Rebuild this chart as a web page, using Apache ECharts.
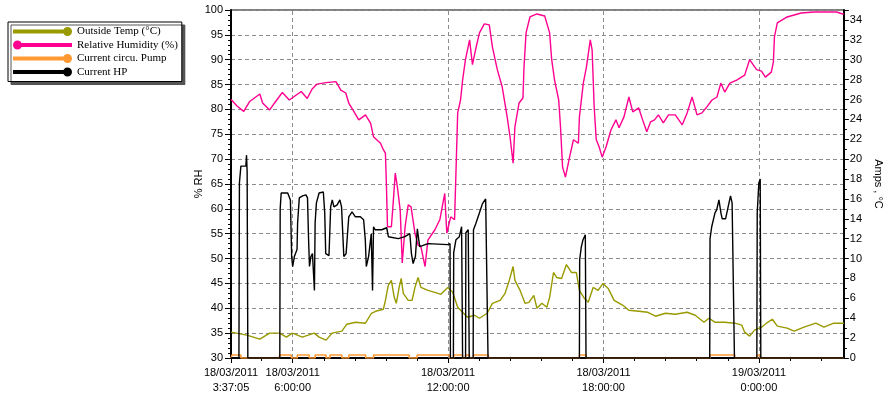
<!DOCTYPE html>
<html>
<head>
<meta charset="utf-8">
<script src="https://cdn.jsdelivr.net/npm/echarts@6/dist/echarts.min.js"></script>
<style>
html,body{margin:0;padding:0;background:#fff;}
#chart{width:892px;height:399px;}
</style>
</head>
<body>
<div id="chart"></div>
<script>
// ---- time axis (hours since 18/03/2011 00:00) ----
const xMin = 3.618;   // 18/03/2011 3:37:05
const xMax = 27.28;
const xTickValues = [3.618, 6, 12, 18, 24];
const xTickLabels = ['18/03/2011\n3:37:05', '18/03/2011\n6:00:00', '18/03/2011\n12:00:00', '18/03/2011\n18:00:00', '19/03/2011\n0:00:00'];
const xGridValues = [6, 12, 18, 24];
const xMinorTicks = [4.8, 7.2, 8.4, 9.6, 10.8, 13.2, 14.4, 15.6, 16.8, 19.2, 20.4, 21.6, 22.8, 25.2, 26.4];

// ---- Relative Humidity (%) ----
const rhTimes = [3.62, 3.66, 3.85, 4.11, 4.34, 4.73, 4.84, 5.11, 5.30, 5.60, 5.87, 6.14, 6.33, 6.56, 6.75, 6.94, 7.29, 7.67, 7.86, 8.05, 8.17, 8.36, 8.55, 8.81, 9.01, 9.12, 9.39, 9.50, 9.58, 9.62, 9.66, 9.81, 9.88, 9.96, 10.04, 10.15, 10.23, 10.34, 10.46, 10.57, 10.72, 10.84, 10.95, 11.11, 11.22, 11.49, 11.68, 11.87, 11.95, 12.10, 12.25, 12.37, 12.48, 12.56, 12.67, 12.83, 12.94, 13.06, 13.21, 13.40, 13.59, 13.71, 13.90, 14.09, 14.28, 14.39, 14.51, 14.58, 14.74, 14.89, 14.93, 15.01, 15.16, 15.43, 15.73, 15.92, 16.00, 16.11, 16.27, 16.34, 16.42, 16.53, 16.69, 16.84, 17.03, 17.07, 17.22, 17.34, 17.49, 17.56, 17.64, 17.72, 17.83, 17.95, 18.10, 18.29, 18.48, 18.60, 18.79, 18.98, 19.13, 19.36, 19.51, 19.67, 19.82, 19.97, 20.12, 20.31, 20.51, 20.77, 21.04, 21.23, 21.42, 21.61, 21.80, 21.99, 22.19, 22.38, 22.53, 22.68, 22.88, 23.14, 23.45, 23.64, 23.91, 24.10, 24.25, 24.48, 24.56, 24.60, 24.71, 25.09, 25.63, 26.12, 27.00, 27.23, 27.28];
const rhValues = [82.0, 82.0, 80.7, 79.6, 81.6, 83.1, 81.3, 79.9, 81.3, 83.4, 81.9, 82.9, 83.6, 82.2, 84.1, 85.1, 85.4, 85.6, 83.9, 83.3, 81.2, 79.6, 77.9, 78.9, 77.2, 74.5, 73.2, 71.9, 71.2, 64.5, 56.4, 56.4, 61.2, 67.2, 64.5, 59.8, 49.1, 56.4, 60.8, 60.4, 55.1, 52.7, 52.4, 48.4, 53.7, 55.8, 57.8, 63.1, 55.1, 58.4, 57.8, 79.3, 81.9, 85.9, 90.0, 94.0, 89.0, 92.0, 95.4, 97.2, 97.0, 92.6, 88.0, 84.5, 78.5, 74.5, 69.2, 76.5, 81.3, 82.3, 88.5, 95.4, 98.6, 99.2, 98.8, 95.4, 90.0, 85.9, 81.9, 76.5, 68.4, 66.4, 70.4, 73.9, 73.2, 78.5, 85.3, 88.5, 94.0, 92.0, 80.5, 73.9, 72.5, 70.4, 72.5, 75.9, 77.9, 76.3, 78.5, 82.5, 79.5, 80.3, 77.9, 75.5, 77.5, 77.9, 78.9, 77.3, 78.9, 78.9, 76.9, 79.3, 82.5, 78.9, 79.3, 80.5, 81.9, 82.5, 85.3, 83.5, 85.3, 85.9, 86.9, 90.0, 88.0, 87.7, 86.5, 87.5, 89.6, 94.6, 97.4, 98.6, 99.4, 99.6, 99.6, 99.2, 99.2];

// ---- Outside Temp (°C) ----
const tempTimes = [3.62, 3.66, 4.23, 4.73, 5.11, 5.49, 5.76, 5.99, 6.37, 6.83, 7.02, 7.29, 7.52, 7.90, 8.09, 8.43, 8.81, 9.04, 9.20, 9.50, 9.58, 9.69, 9.81, 9.92, 10.00, 10.11, 10.19, 10.27, 10.46, 10.61, 10.72, 10.84, 10.95, 11.22, 11.49, 11.72, 11.99, 12.18, 12.37, 12.56, 12.75, 13.02, 13.21, 13.51, 13.71, 14.01, 14.20, 14.36, 14.51, 14.58, 14.78, 14.97, 15.12, 15.31, 15.43, 15.62, 15.81, 15.92, 16.07, 16.19, 16.38, 16.57, 16.76, 16.95, 17.07, 17.26, 17.41, 17.60, 17.79, 17.98, 18.18, 18.41, 18.75, 18.98, 19.36, 19.71, 20.01, 20.39, 20.77, 21.23, 21.54, 21.88, 22.07, 22.30, 22.68, 23.07, 23.34, 23.45, 23.64, 23.83, 24.10, 24.29, 24.52, 24.71, 25.09, 25.36, 25.74, 26.20, 26.51, 26.89, 27.23, 27.28];
const tempValues = [2.6, 2.6, 2.3, 1.9, 2.5, 2.5, 2.1, 2.5, 2.1, 2.5, 2.1, 1.8, 2.5, 2.7, 3.4, 3.6, 3.5, 4.5, 4.7, 4.9, 5.8, 7.3, 7.8, 6.1, 5.5, 7.1, 8.0, 6.5, 5.8, 5.8, 7.1, 8.1, 7.1, 6.8, 6.6, 6.4, 7.1, 6.6, 5.1, 4.6, 4.1, 4.3, 4.0, 4.5, 5.5, 5.8, 6.5, 7.8, 9.2, 7.8, 6.8, 5.5, 5.6, 6.3, 5.0, 5.5, 5.1, 6.1, 8.6, 8.1, 8.0, 9.4, 8.6, 8.6, 6.8, 6.0, 5.6, 7.1, 6.8, 7.5, 7.0, 5.8, 5.3, 4.8, 4.7, 4.6, 4.2, 4.5, 4.4, 4.6, 4.3, 3.6, 4.0, 3.6, 3.6, 3.5, 3.3, 2.6, 2.2, 2.8, 3.1, 3.5, 3.9, 3.2, 3.0, 2.7, 3.1, 3.5, 3.1, 3.5, 3.5, 3.5];

// ---- Current circu. Pump (A) ----
const pumpTimes = [3.618, 3.656, 4.000, 5.490, 5.949, 6.178, 6.637, 6.866, 7.286, 7.439, 7.897, 8.165, 8.815, 9.121, 10.496, 10.802, 12.063, 12.216, 12.560, 12.674, 12.827, 12.980, 13.553, 17.069, 17.336, 22.113, 23.068, 23.947, 24.062, 27.28];
const pumpValues = [0, 0.3, 0, 0.3, 0, 0.3, 0, 0.3, 0, 0.3, 0, 0.3, 0, 0.3, 0, 0.3, 0, 0.3, 0, 0.3, 0, 0.3, 0, 0.3, 0, 0.3, 0, 0.3, 0, 0];

// ---- Current HP (A) ----
const hpTimes = [3.618, 3.924, 3.943, 4.000, 4.191, 4.218, 4.241, 4.268, 5.502, 5.517, 5.555, 5.808, 5.873, 5.911, 5.960, 5.999, 6.064, 6.167, 6.190, 6.255, 6.381, 6.511, 6.572, 6.610, 6.648, 6.702, 6.763, 6.839, 6.866, 6.916, 7.019, 7.183, 7.237, 7.275, 7.401, 7.466, 7.527, 7.592, 7.718, 7.821, 7.886, 7.974, 8.062, 8.100, 8.165, 8.291, 8.421, 8.612, 8.738, 8.803, 8.842, 8.930, 9.033, 9.082, 9.121, 9.186, 9.438, 9.629, 9.694, 10.076, 10.332, 10.523, 10.584, 10.649, 10.737, 10.813, 10.867, 10.905, 11.222, 11.986, 12.074, 12.090, 12.204, 12.216, 12.304, 12.434, 12.521, 12.560, 12.674, 12.686, 12.777, 12.816, 12.968, 12.980, 13.068, 13.198, 13.324, 13.450, 13.515, 13.542, 17.069, 17.080, 17.145, 17.210, 17.298, 17.325, 22.101, 22.113, 22.178, 22.304, 22.369, 22.457, 22.533, 22.583, 22.713, 22.812, 22.904, 22.965, 23.030, 23.056, 23.920, 23.935, 23.997, 24.050, 24.073, 27.28];
const hpValues = [0, 0, 17.6, 19.3, 19.3, 20.4, 18.7, 0, 0, 15.0, 16.6, 16.6, 16.7, 15.9, 10.2, 9.2, 10.2, 10.9, 13.6, 16.1, 16.3, 16.4, 16.1, 12.2, 9.2, 10.2, 10.5, 6.8, 13.6, 15.6, 16.6, 16.7, 14.6, 10.5, 10.3, 15.2, 15.9, 15.2, 15.4, 15.9, 15.2, 10.2, 10.5, 11.9, 14.2, 14.7, 14.2, 14.2, 13.9, 11.9, 9.2, 10.2, 12.5, 6.8, 13.2, 12.9, 12.9, 13.1, 12.2, 12.0, 12.2, 12.5, 10.5, 9.5, 10.2, 13.0, 11.9, 11.2, 11.5, 11.4, 11.5, 0, 0, 10.6, 11.9, 12.2, 13.2, 0, 0, 12.6, 12.9, 0, 0, 12.9, 13.5, 14.5, 15.5, 16.0, 16.2, 0, 0, 9.9, 11.2, 11.9, 12.4, 0, 0, 12.0, 13.2, 14.6, 14.9, 15.9, 14.6, 14.0, 14.0, 15.2, 16.3, 15.6, 15.6, 0, 0, 14.6, 17.6, 18.0, 0, 0];

const seriesNames = ['Outside Temp (°C)', 'Relative Humidity (%)', 'Current circu. Pump', 'Current HP'];
const seriesColors = ['#999900', '#ff0090', '#ff9933', '#000000'];

function zip(t, v) { return t.map((x, i) => [x, v[i]]); }

const iconRight = 'path://M0,2.5H55V6.5H0Z M50,4.5a4.5,4.5 0 1,1 9,0a4.5,4.5 0 1,1 -9,0Z';
const iconLeft = 'path://M4,2.5H59V6.5H4Z M0,4.5a4.5,4.5 0 1,1 9,0a4.5,4.5 0 1,1 -9,0Z';

const gridDash = {color: '#8c8c8c', width: 1, type: [4, 3]};
const sans = 'Liberation Sans, Arial, sans-serif';

const chart = echarts.init(document.getElementById('chart'));
chart.setOption({
  animation: false,
  backgroundColor: '#fff',
  grid: {left: 231, right: 40, top: 10, bottom: 41, show: true, borderColor: '#000', borderWidth: 1, backgroundColor: '#fff'},
  legend: {
    orient: 'vertical', left: 8, top: 22, z: 20,
    backgroundColor: '#fff', borderColor: '#000', borderWidth: 1,
    shadowColor: '#555555', shadowOffsetX: 3, shadowOffsetY: 3, shadowBlur: 0.5,
    padding: [4, 4, 4, 5], itemGap: 2.5, itemWidth: 59, itemHeight: 9, itemTextGap: 4,
    itemStyle: {borderWidth: 0},
    textStyle: {fontFamily: 'Liberation Serif, Times New Roman, serif', fontSize: 11, color: '#000'},
    selectedMode: false,
    data: [
      {name: seriesNames[0], icon: iconRight},
      {name: seriesNames[1], icon: iconLeft},
      {name: seriesNames[2], icon: iconRight},
      {name: seriesNames[3], icon: iconRight}
    ]
  },
  xAxis: [{
    type: 'value', min: xMin, max: xMax, position: 'bottom',
    axisLine: {show: true, onZero: false, lineStyle: {color: '#000', width: 2}},
    axisTick: {show: true, length: 5, customValues: xTickValues, lineStyle: {color: '#000'}},
    axisLabel: {
      customValues: xTickValues, color: '#000', fontFamily: sans, fontSize: 11, lineHeight: 15, margin: 7,
      formatter: function (v) {
        const i = xTickValues.findIndex(t => Math.abs(t - v) < 1e-6);
        return i >= 0 ? xTickLabels[i] : '';
      }
    },
    splitLine: {show: false}
  }, {
    type: 'value', min: xMin, max: xMax, position: 'bottom',
    axisLine: {show: false},
    axisTick: {show: true, length: 3, customValues: xMinorTicks, lineStyle: {color: '#000'}},
    axisLabel: {show: false},
    splitLine: {show: false}
  }],
  yAxis: [{
    type: 'value', min: 30, max: 100, interval: 5, position: 'left',
    name: '% RH', nameLocation: 'middle', nameGap: 27, nameMoveOverlap: false,
    nameTextStyle: {color: '#000', fontFamily: sans, fontSize: 11},
    axisLine: {show: true, lineStyle: {color: '#000', width: 2}},
    axisTick: {show: true, length: 6, lineStyle: {color: '#000'}},
    minorTick: {show: true, splitNumber: 5, length: 3, lineStyle: {color: '#000'}},
    axisLabel: {color: '#000', fontFamily: sans, fontSize: 11, margin: 8},
    splitLine: {show: true, lineStyle: gridDash}
  }, {
    type: 'value', min: 0, max: 35, interval: 2, position: 'right',
    name: 'Amps , °C', nameLocation: 'middle', nameGap: 22, nameRotate: -90,
    nameTextStyle: {color: '#000', fontFamily: sans, fontSize: 11},
    axisLine: {show: true, lineStyle: {color: '#000', width: 2}},
    axisTick: {show: true, length: 5, lineStyle: {color: '#000'}},
    minorTick: {show: true, splitNumber: 2, length: 3, lineStyle: {color: '#000'}},
    axisLabel: {color: '#000', fontFamily: sans, fontSize: 11, margin: 6, showMaxLabel: false},
    splitLine: {show: false}
  }],
  series: [{
    name: seriesNames[0], type: 'line', xAxisIndex: 0, yAxisIndex: 1, showSymbol: false, z: 3,
    color: seriesColors[0], lineStyle: {width: 1.4, color: seriesColors[0]},
    data: zip(tempTimes, tempValues)
  }, {
    name: seriesNames[1], type: 'line', xAxisIndex: 0, yAxisIndex: 0, showSymbol: false, z: 4,
    color: seriesColors[1], lineStyle: {width: 1.4, color: seriesColors[1]},
    data: zip(rhTimes, rhValues)
  }, {
    name: seriesNames[2], type: 'line', xAxisIndex: 0, yAxisIndex: 1, showSymbol: false, z: 2, step: 'end',
    color: seriesColors[2], lineStyle: {width: 1.5, color: seriesColors[2]},
    data: zip(pumpTimes, pumpValues),
    markLine: {
      silent: true, symbol: 'none', z: 1, animation: false,
      label: {show: false}, emphasis: {disabled: true},
      lineStyle: gridDash,
      data: xGridValues.map(v => ({xAxis: v}))
    }
  }, {
    name: seriesNames[3], type: 'line', xAxisIndex: 0, yAxisIndex: 1, showSymbol: false, z: 5,
    color: seriesColors[3], lineStyle: {width: 1.4, color: seriesColors[3]},
    data: zip(hpTimes, hpValues)
  }]
});
</script>
</body>
</html>
